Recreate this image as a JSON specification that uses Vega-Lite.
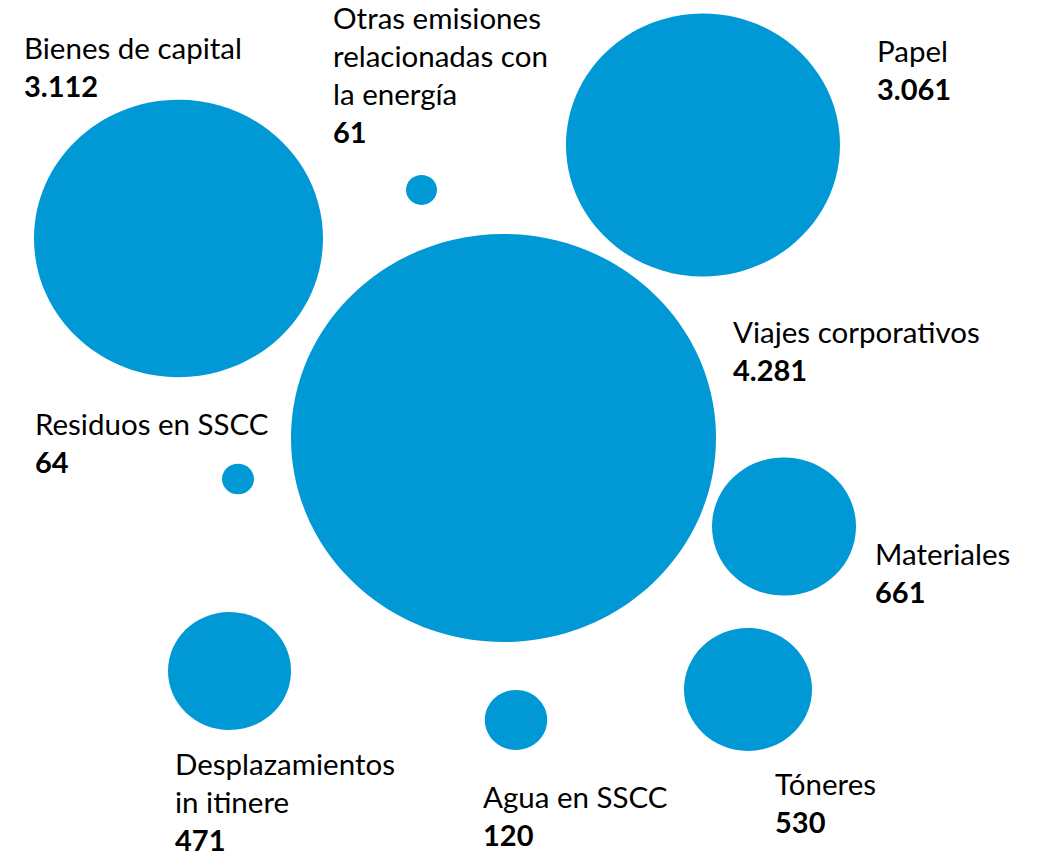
{
  "$schema": "https://vega.github.io/schema/vega-lite/v6.json",
  "width": 1040,
  "height": 856,
  "padding": 0,
  "autosize": "none",
  "background": "#ffffff",
  "config": {
    "view": {"stroke": null},
    "locale": {"number": {"decimal": ",", "thousands": ".", "grouping": [3], "currency": ["", " €"]}}
  },
  "data": {
    "values": [
      {"categoria": "Bienes de capital", "valor": 3112, "x": 178.5, "y": 238.5, "lx": 24, "ly": 97},
      {"categoria": "Otras emisiones\nrelacionadas con\nla energía", "valor": 61, "x": 421.5, "y": 190, "lx": 333, "ly": 143},
      {"categoria": "Papel", "valor": 3061, "x": 703, "y": 145, "lx": 877, "ly": 100},
      {"categoria": "Viajes corporativos", "valor": 4281, "x": 503.5, "y": 438, "lx": 733, "ly": 381},
      {"categoria": "Residuos en SSCC", "valor": 64, "x": 238, "y": 479, "lx": 35, "ly": 473},
      {"categoria": "Materiales", "valor": 661, "x": 784, "y": 526.5, "lx": 875, "ly": 603},
      {"categoria": "Desplazamientos\nin itinere", "valor": 471, "x": 229.5, "y": 671, "lx": 175, "ly": 851},
      {"categoria": "Agua en SSCC", "valor": 120, "x": 516, "y": 720, "lx": 483, "ly": 846},
      {"categoria": "Tóneres", "valor": 530, "x": 748, "y": 689.5, "lx": 775, "ly": 833}
    ]
  },
  "encoding": {
    "x": {"field": "lx", "type": "quantitative", "scale": {"domain": [0, 1040], "nice": false, "zero": false}, "axis": null},
    "y": {"field": "ly", "type": "quantitative", "scale": {"domain": [0, 856], "nice": false, "zero": false, "reverse": true}, "axis": null}
  },
  "layer": [
    {
      "mark": {"type": "point", "filled": true, "opacity": 1, "strokeWidth": 0, "color": "#0099D5",
        "shape": "M-1,0A1,0.96,0,1,1,1,0A1,0.96,0,1,1,-1,0Z"},
      "encoding": {
        "x": {"field": "x", "type": "quantitative", "scale": {"domain": [0, 1040], "nice": false, "zero": false}, "axis": null},
        "y": {"field": "y", "type": "quantitative", "scale": {"domain": [0, 856], "nice": false, "zero": false, "reverse": true}, "axis": null},
        "size": {"field": "valor", "type": "quantitative", "legend": null,
          "scale": {"type": "linear", "domain": [61, 64, 120, 471, 530, 661, 3061, 3112, 4281],
            "range": [961, 1024, 3894, 15129, 16384, 20736, 75076, 83521, 180625]}}
      }
    },
    {
      "transform": [{"filter": {"field": "categoria", "oneOf": ["Bienes de capital", "Papel", "Viajes corporativos", "Residuos en SSCC", "Materiales", "Agua en SSCC", "Tóneres"]}}],
      "mark": {"type": "text", "align": "left", "baseline": "alphabetic", "dy": -38,
        "font": "Lato", "fontSize": 29.5, "color": "#000000"},
      "encoding": {"text": {"field": "categoria"}}
    },
    {
      "transform": [{"filter": {"field": "categoria", "oneOf": ["Desplazamientos\nin itinere"]}}],
      "mark": {"type": "text", "align": "left", "baseline": "alphabetic", "dy": -76, "lineBreak": "\n", "lineHeight": 38,
        "font": "Lato", "fontSize": 29.5, "color": "#000000"},
      "encoding": {"text": {"field": "categoria"}}
    },
    {
      "transform": [{"filter": {"field": "categoria", "oneOf": ["Otras emisiones\nrelacionadas con\nla energía"]}}],
      "mark": {"type": "text", "align": "left", "baseline": "alphabetic", "dy": -114, "lineBreak": "\n", "lineHeight": 38,
        "font": "Lato", "fontSize": 29.5, "color": "#000000"},
      "encoding": {"text": {"field": "categoria"}}
    },
    {
      "mark": {"type": "text", "align": "left", "baseline": "alphabetic",
        "font": "Lato", "fontSize": 29, "fontWeight": "bold", "color": "#000000"},
      "encoding": {"text": {"field": "valor", "type": "quantitative", "format": ",d"}}
    }
  ]
}
